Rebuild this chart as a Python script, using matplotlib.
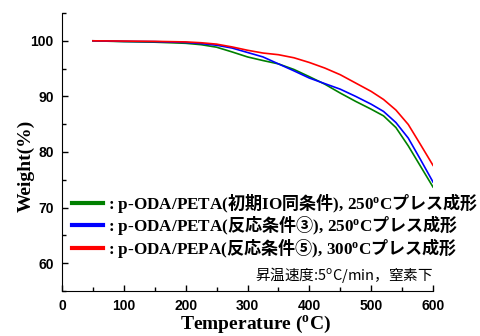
import matplotlib
matplotlib.use("Agg")
import matplotlib.pyplot as plt
from matplotlib.ticker import MultipleLocator

plt.rcParams['mathtext.fontset'] = 'custom'
plt.rcParams['mathtext.bf'] = 'Noto Sans CJK JP:bold'
plt.rcParams['mathtext.rm'] = 'Liberation Serif:bold'

temps = [50, 100, 150, 200, 225, 250, 275, 300, 325, 350, 375, 400, 425, 450, 475, 500, 520, 540, 560, 580, 600]
w_green = [100.0, 99.85, 99.75, 99.55, 99.3, 98.85, 98.0, 97.1, 96.45, 95.85, 94.85, 93.55, 92.2, 90.6, 89.1, 87.7, 86.5, 84.4, 81.1, 77.4, 73.7]
w_blue = [100.0, 99.9, 99.85, 99.7, 99.5, 99.2, 98.7, 97.9, 97.1, 95.85, 94.6, 93.3, 92.3, 91.3, 90.0, 88.6, 87.3, 85.3, 82.5, 78.6, 74.6]
w_red = [100.0, 99.95, 99.9, 99.8, 99.65, 99.4, 98.9, 98.3, 97.8, 97.5, 96.95, 96.1, 95.1, 93.9, 92.4, 90.9, 89.45, 87.55, 84.95, 81.3, 77.6]

labels = [
    r": p-ODA/PETA($\mathbf{初期}$IO$\mathbf{同条件}$), 250$\mathregular{^o}$C$\mathbf{プレス成形}$",
    r": p-ODA/PETA($\mathbf{反応条件③}$), 250$\mathregular{^o}$C$\mathbf{プレス成形}$",
    r": p-ODA/PEPA($\mathbf{反応条件⑤}$), 300$\mathregular{^o}$C$\mathbf{プレス成形}$",
]
colors = ['#008000', '#0000ff', '#ff0000']
xticks = [0, 100, 200, 300, 400, 500, 600]
yticks = [60, 70, 80, 90, 100]

fig = plt.figure(figsize=(4.8, 3.36), dpi=100)
ax = fig.add_axes([62/480, 1-291/336, 371/480, 278/336])

for w, c, lab in zip([w_green, w_blue, w_red], colors, labels):
    ax.plot(temps, w, color=c, lw=1.2, label=lab)

ax.set_xlim(0, 600)
ax.set_ylim(55, 105)
ax.set_xticks(xticks)
ax.set_yticks(yticks)
ax.xaxis.set_minor_locator(MultipleLocator(50))
ax.yaxis.set_minor_locator(MultipleLocator(5))
ax.spines['top'].set_visible(False)
ax.spines['right'].set_visible(False)
ax.tick_params(which='both', direction='in', width=1)
ax.tick_params(which='major', length=4, labelsize=10, pad=6)
ax.tick_params(which='minor', length=3)
for lbl in ax.get_xticklabels() + ax.get_yticklabels():
    lbl.set_fontfamily('Liberation Sans')
    lbl.set_fontweight('bold')

ax.set_xlabel(r"Temperature ($\mathregular{^o}$C)", fontfamily='Liberation Serif', fontweight='bold', fontsize=14)
ax.set_ylabel("Weight(%)", fontfamily='Liberation Serif', fontweight='bold', fontsize=14)
ax.xaxis.set_label_coords(0.523, -0.083)
ax.yaxis.set_label_coords(-0.073, 0.451)

leg = ax.legend(loc='lower left', bbox_to_anchor=(0.028, 0.113), frameon=False,
                prop=dict(family='Liberation Serif', weight='bold', size=12.3),
                handlelength=1.8, handletextpad=0.3, labelspacing=-0.1,
                borderpad=0, borderaxespad=0)
for line in leg.get_lines():
    line.set_linewidth(3)

ax.text(1.0, 0.058, r"昇温速度:5$\mathregular{^o}$C/min，窒素下", transform=ax.transAxes,
        ha='right', va='center', fontfamily='Noto Sans CJK JP', fontsize=10.5)

fig.savefig('out.png', dpi=100)
